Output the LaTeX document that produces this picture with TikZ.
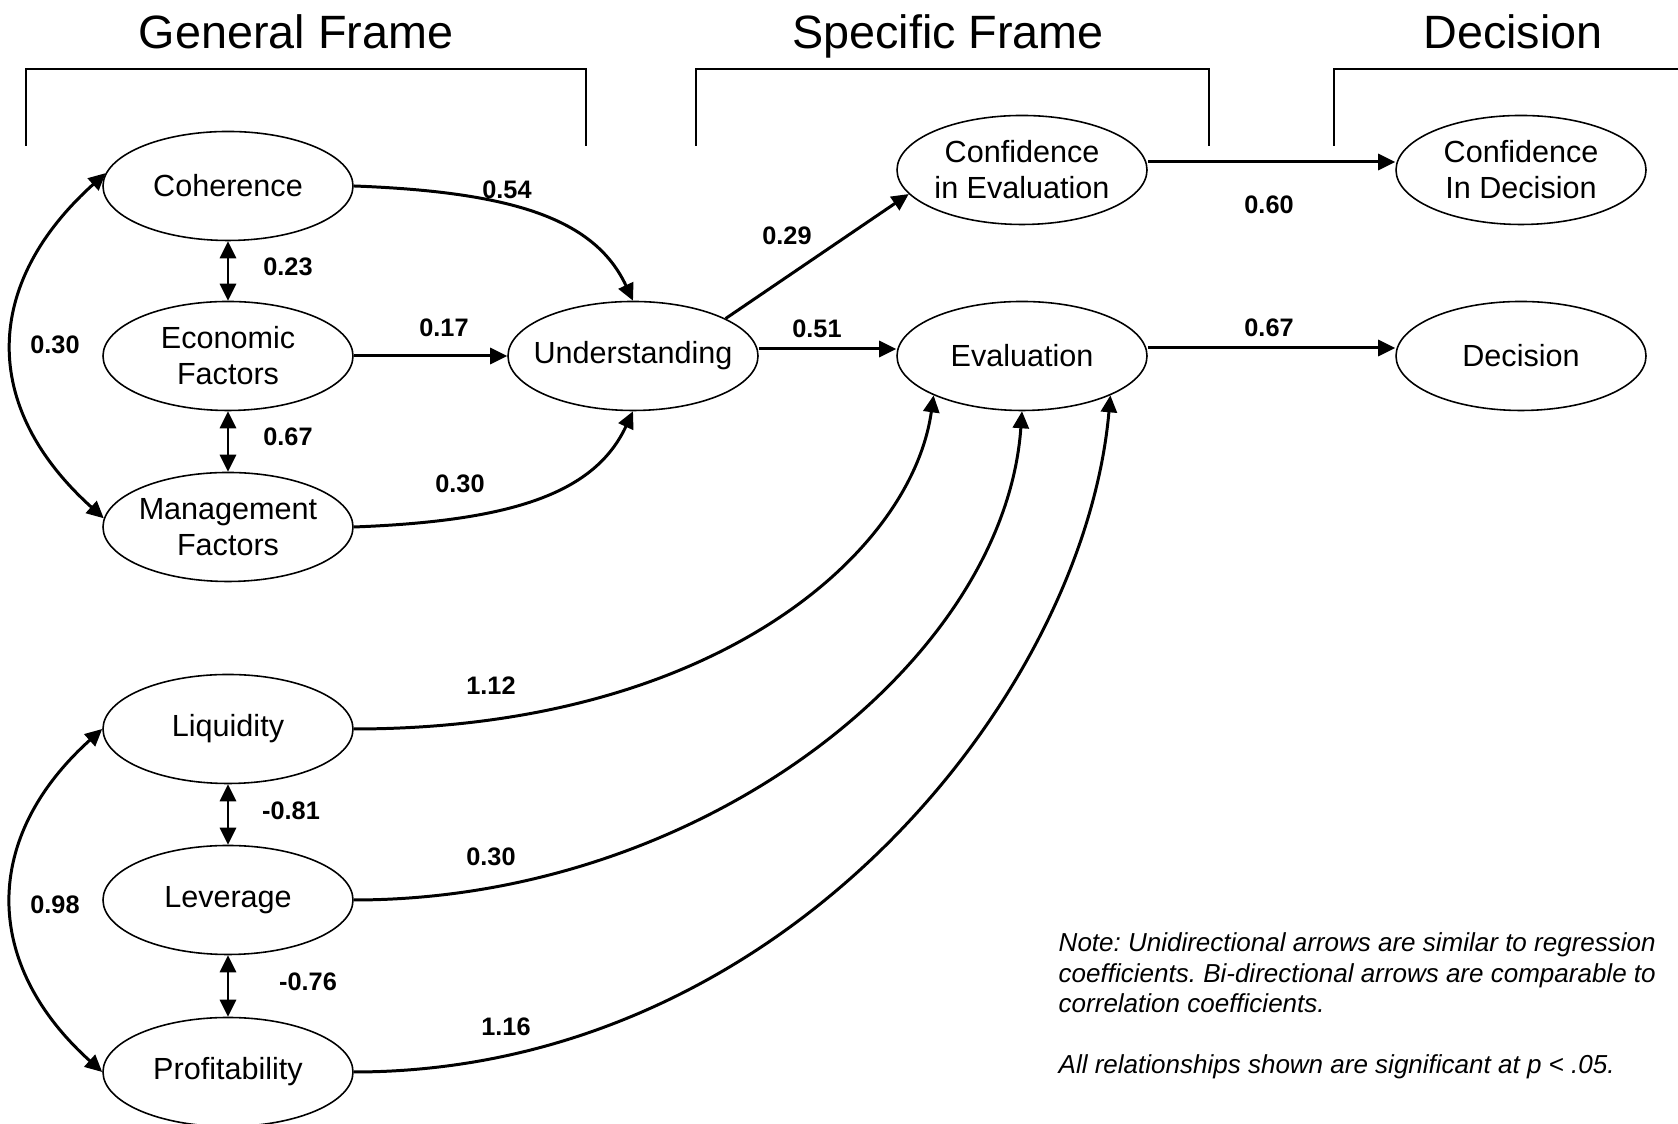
\documentclass[tikz,border=0pt]{standalone}
\usepackage{fontspec}
\setmainfont{Liberation Sans}
\frenchspacing
\usetikzlibrary{shapes.geometric,arrows.meta}

\begin{document}
\begin{tikzpicture}[
        latent/.style={ellipse, draw, line width=0.45pt, minimum width=2.5cm,
            minimum height=1.09cm, inner xsep=-0.12cm, inner ysep=0pt, align=center,
            font=\fontsize{8.7}{10.2}\selectfont},
        effect/.style={line width=0.85pt, -{Triangle[length=0.17cm,width=0.16cm]}},
        corr/.style={line width=0.85pt,
            {Triangle[length=0.17cm,width=0.16cm]}-{Triangle[length=0.17cm,width=0.16cm]}},
        coef/.style={font=\fontsize{7.2}{8}\selectfont\bfseries, inner sep=0pt},
        bracketline/.style={line width=0.45pt},
        heading/.style={anchor=base, inner sep=0pt, font=\fontsize{13.3}{15}\selectfont}
    ]
            \useasboundingbox (0,0) rectangle (16.78,11.24);

            \draw[bracketline] (0.26,9.78) -- (0.26,10.55) -- (5.86,10.55) -- (5.86,9.78);
            \draw[bracketline] (6.96,9.78) -- (6.96,10.55) -- (12.09,10.55) -- (12.09,9.78);
            \draw[bracketline] (13.34,9.78) -- (13.34,10.55) -- (16.80,10.55);
            \node[heading] (gentitle) at (2.96,10.75) {General Frame};
            \node[heading] (spectitle) at (9.48,10.75) {Specific Frame};
            \node[heading] (dectitle) at (15.13,10.75) {Decision};

            \node[latent] (coh) at (2.28,9.38) {Coherence};
            \node[latent] (econ) at (2.28,7.68) {Economic\\Factors};
            \node[latent] (mgmt) at (2.28,5.97) {Management\\Factors};
            \node[latent] (und) at (6.33,7.68) {Understanding};
            \node[latent] (confeval) at (10.22,9.54) {Confidence\\in Evaluation};
            \node[latent] (eval) at (10.22,7.68) {Evaluation};
            \node[latent] (confdec) at (15.21,9.54) {Confidence\\In Decision};
            \node[latent] (dec) at (15.21,7.68) {Decision};
            \node[latent] (liq) at (2.28,3.95) {Liquidity};
            \node[latent] (lev) at (2.28,2.24) {Leverage};
            \node[latent] (prof) at (2.28,0.52) {Profitability};

            \draw[effect] (coh.east) .. controls +(1.6,-0.06) and +(115:0.9) .. (und.north);
            \draw[effect] (econ.east) -- (und.west);
            \draw[effect] (mgmt.east) .. controls +(1.6,0.06) and +(-115:0.9) .. (und.south);
            \draw[effect] (und.22) -- (confeval.192);
            \draw[effect] ([yshift=0.07cm]und.east) -- ([yshift=0.07cm]eval.west);
            \draw[effect] ([yshift=0.08cm]confeval.east) -- ([yshift=0.08cm]confdec.west);
            \draw[effect] ([yshift=0.08cm]eval.east) -- ([yshift=0.08cm]dec.west);

            \draw[corr] (coh.south) -- (econ.north);
            \draw[corr] (econ.south) -- (mgmt.north);
            \draw[corr] (coh.174) .. controls +(222:1.66) and +(138:1.66) .. (mgmt.176);
            \draw[corr] (liq.south) -- (lev.north);
            \draw[corr] (lev.south) -- (prof.north);
            \draw[corr] (liq.west) .. controls +(222:1.62) and +(138:1.62) .. (prof.west);

            \draw[effect] (liq.east) .. controls +(3.6,0) and +(262:1.6) .. (eval.204);
            \draw[effect] (lev.east) .. controls +(3.5,0) and +(266:2.5) .. (eval.south);
            \draw[effect] (prof.east) .. controls +(4.3,0) and +(265:3.0) .. (eval.-24);

            \node[coef] (w054) at (5.07,9.34) {0.54};
            \node[coef] (w023) at (2.88,8.57) {0.23};
            \node[coef] (w030a) at (0.55,7.79) {0.30};
            \node[coef] (w017) at (4.44,7.96) {0.17};
            \node[coef] (w067a) at (2.88,6.87) {0.67};
            \node[coef] (w030b) at (4.60,6.40) {0.30};
            \node[coef] (w029) at (7.87,8.88) {0.29};
            \node[coef] (w051) at (8.17,7.95) {0.51};
            \node[coef] (w060) at (12.69,9.19) {0.60};
            \node[coef] (w067b) at (12.69,7.96) {0.67};
            \node[coef] (w081) at (2.91,3.13) {-0.81};
            \node[coef] (w076) at (3.08,1.42) {-0.76};
            \node[coef] (w098) at (0.55,2.19) {0.98};
            \node[coef] (w112) at (4.91,4.38) {1.12};
            \node[coef] (w030c) at (4.91,2.67) {0.30};
            \node[coef] (w116) at (5.06,0.97) {1.16};

            \node[anchor=north west, inner sep=0pt, align=left,
                font=\fontsize{7.4}{8.7}\selectfont\itshape] (note) at (10.58,1.92)
                {Note: Unidirectional arrows are similar to regression\\
                coefficients. Bi-directional arrows are comparable to\\
                correlation coefficients.\\[8.7pt]
                All relationships shown are significant at p < .05.};
        \end{tikzpicture}
\end{document}
